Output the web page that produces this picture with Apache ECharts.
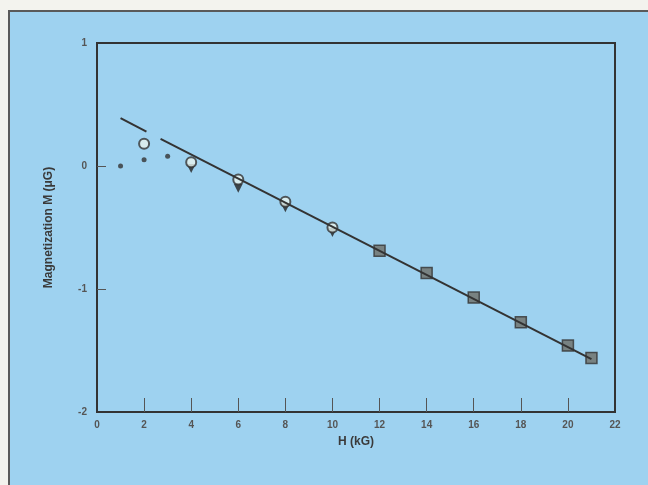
<!DOCTYPE html>
<html lang="en">
<head>
    <meta charset="UTF-8">
    <title>Magnetization vs H</title>
    <script src="https://cdn.jsdelivr.net/npm/echarts@6/dist/echarts.min.js"></script>
    <style>
        html, body { margin: 0; padding: 0; background: #f3f3ee; }
        #frame {
            position: absolute; left: 8px; top: 10px; width: 640px; height: 475px;
            background: #9ed2f0; border-left: 2px solid #5a5a5a; border-top: 2px solid #5a5a5a;
        }
        #main { position: absolute; left: 0; top: 0; width: 648px; height: 485px; }
    </style>
</head>
<body>
<div id="frame"></div>
<div id="main"></div>
<script>
    // open circles
    var circleData = [[2, 0.18], [4, 0.03], [6, -0.11], [8, -0.29], [10, -0.50]];
    // filled down triangles
    var triData = [[4, -0.02], [6, -0.18], [8, -0.34], [10, -0.54]];
    // small dots at low field
    var dotData = [[1, 0.0], [2, 0.05], [3, 0.08]];
    // filled squares
    var squareData = [[12, -0.69], [14, -0.87], [16, -1.07], [18, -1.27], [20, -1.46], [21, -1.56]];
    // straight fit line: short dash then solid part
    var fitDash = [[1, 0.39], [2.1, 0.28]];
    var fitSolid = [[2.7, 0.22], [21, -1.57]];
    var xTicks = [0, 2, 4, 6, 8, 10, 12, 14, 16, 18, 20, 22];
    var yTicks = [1, 0, -1, -2];

    var chart = echarts.init(document.getElementById('main'));
    var dark = '#333333';
    chart.setOption({
        animation: false,
        grid: {
            left: 97, right: 33, top: 43, bottom: 73,
            show: true, borderColor: dark, borderWidth: 2, backgroundColor: 'transparent'
        },
        xAxis: {
            type: 'value', min: 0, max: 22, interval: 2,
            name: 'H (kG)', nameLocation: 'middle', nameGap: 24,
            nameTextStyle: { fontFamily: 'Liberation Sans', fontWeight: 'bold', fontSize: 12, color: '#3a3a3a' },
            axisLine: { show: true, onZero: false, lineStyle: { color: dark, width: 2 } },
            axisTick: {
                show: true, inside: true, length: 14,
                lineStyle: { color: '#555', width: 1 },
                customValues: xTicks.slice(1, -1)
            },
            axisLabel: {
                margin: 8, fontFamily: 'Liberation Sans', fontWeight: 'bold', fontSize: 10, color: '#555',
                customValues: xTicks
            },
            splitLine: { show: false }
        },
        yAxis: {
            type: 'value', min: -2, max: 1, interval: 1,
            name: 'Magnetization M (\u03bcG)', nameLocation: 'middle', nameGap: 42,
            nameTextStyle: { fontFamily: 'Liberation Sans', fontWeight: 'bold', fontSize: 12, color: '#3a3a3a' },
            axisLine: { show: true, onZero: false, lineStyle: { color: dark, width: 2 } },
            axisTick: {
                show: true, inside: true, length: 9,
                lineStyle: { color: '#555', width: 1 },
                customValues: [0, -1]
            },
            axisLabel: {
                margin: 10, fontFamily: 'Liberation Sans', fontWeight: 'bold', fontSize: 10, color: '#555',
                customValues: yTicks
            },
            splitLine: { show: false }
        },
        series: [
            {
                type: 'line', data: fitDash, symbol: 'none',
                lineStyle: { color: dark, width: 2 }
            },
            {
                type: 'line', data: fitSolid, symbol: 'none',
                lineStyle: { color: dark, width: 2 }
            },
            {
                type: 'scatter', data: triData, symbol: 'triangle', symbolRotate: 180, symbolSize: 9,
                itemStyle: { color: '#222' }
            },
            {
                type: 'scatter', data: dotData, symbol: 'circle', symbolSize: 5,
                itemStyle: { color: '#333' }
            },
            {
                type: 'scatter', data: circleData, symbol: 'circle', symbolSize: 10,
                itemStyle: { color: '#e6f2ee', borderColor: '#333', borderWidth: 2 }
            },
            {
                type: 'scatter', data: squareData, symbol: 'rect', symbolSize: 11,
                itemStyle: { color: '#6e6e66', borderColor: '#333', borderWidth: 1.5 }
            }
        ]
    });
</script>
</body>
</html>
